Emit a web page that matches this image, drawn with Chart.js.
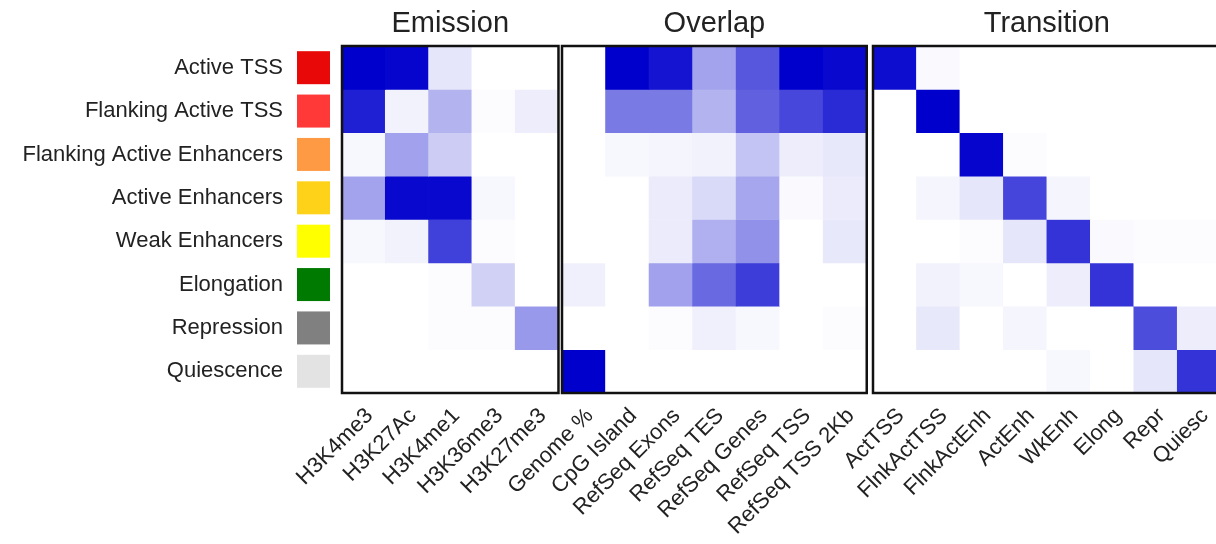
<!DOCTYPE html>
<html>
<head>
<meta charset="utf-8">
<script src="https://cdn.jsdelivr.net/npm/chart.js@4/dist/chart.umd.min.js"></script>
<style>
  html, body { margin: 0; padding: 0; background: #fff; overflow: hidden; }
  body { width: 1216px; height: 544px; position: relative; }
  canvas { position: absolute; top: 0; }
</style>
</head>
<body>
<canvas id="emission" width="566" height="544" style="left:0px"></canvas>
<canvas id="overlap" width="412" height="544" style="left:462px"></canvas>
<canvas id="transition" width="455" height="544" style="left:773px"></canvas>
<script>
const states = [
  "Active TSS", "Flanking Active TSS", "Flanking Active Enhancers", "Active Enhancers",
  "Weak Enhancers", "Elongation", "Repression", "Quiescence",
];
const stateColors = ["#e80808", "#ff3838", "#ff9a44", "#ffd21a", "#ffff00", "#007a00", "#808080", "#e3e3e3"];

const emissionMarks = ["H3K4me3", "H3K27Ac", "H3K4me1", "H3K36me3", "H3K27me3"];
const overlapFeatures = ["Genome %", "CpG Island", "RefSeq Exons", "RefSeq TES", "RefSeq Genes", "RefSeq TSS", "RefSeq TSS 2Kb"];
const transitionStates = ["ActTSS", "FlnkActTSS", "FlnkActEnh", "ActEnh", "WkEnh", "Elong", "Repr", "Quiesc"];

// one row per state, values scaled 0..1
const emission = [
  [1.00, 0.98, 0.10, 0.00, 0.00],
  [0.88, 0.05, 0.30, 0.01, 0.07],
  [0.03, 0.37, 0.20, 0.00, 0.00],
  [0.36, 0.97, 0.97, 0.03, 0.00],
  [0.03, 0.05, 0.75, 0.01, 0.00],
  [0.00, 0.00, 0.01, 0.18, 0.00],
  [0.00, 0.00, 0.01, 0.01, 0.40],
  [0.00, 0.00, 0.00, 0.00, 0.00],
];
const overlap = [
  [0.00, 1.00, 0.92, 0.36, 0.66, 1.00, 0.97],
  [0.00, 0.52, 0.52, 0.30, 0.62, 0.72, 0.83],
  [0.00, 0.03, 0.04, 0.05, 0.23, 0.07, 0.09],
  [0.00, 0.00, 0.08, 0.15, 0.35, 0.02, 0.08],
  [0.00, 0.00, 0.08, 0.31, 0.43, 0.00, 0.09],
  [0.06, 0.00, 0.37, 0.59, 0.76, 0.00, 0.00],
  [0.00, 0.00, 0.01, 0.06, 0.03, 0.00, 0.01],
  [1.00, 0.00, 0.00, 0.00, 0.00, 0.00, 0.00],
];
const transition = [
  [0.95, 0.02, 0.00, 0.00, 0.00, 0.00, 0.00, 0.00],
  [0.00, 1.00, 0.00, 0.00, 0.00, 0.00, 0.00, 0.00],
  [0.00, 0.00, 0.98, 0.01, 0.00, 0.00, 0.00, 0.00],
  [0.00, 0.04, 0.10, 0.73, 0.04, 0.00, 0.00, 0.00],
  [0.00, 0.00, 0.01, 0.10, 0.80, 0.02, 0.01, 0.01],
  [0.00, 0.05, 0.03, 0.00, 0.07, 0.80, 0.00, 0.00],
  [0.00, 0.09, 0.00, 0.04, 0.00, 0.00, 0.70, 0.07],
  [0.00, 0.00, 0.00, 0.00, 0.03, 0.00, 0.10, 0.80],
];

const FONT = "'Liberation Sans', Arial, sans-serif";
Chart.defaults.font.family = FONT;
Chart.defaults.color = "#222";

function shade(v) {
  const c = Math.round(255 * (1 - v));
  const b = Math.round(255 - 50 * v);
  return `rgb(${c},${c},${b})`;
}

// frame round the cells and the panel title above it
const panelFrame = {
  id: "panelFrame",
  afterDatasetsDraw(chart, args, opts) {
    const { ctx, chartArea: a } = chart;
    ctx.save();
    ctx.strokeStyle = "#111";
    ctx.lineWidth = 2.5;
    ctx.strokeRect(a.left, a.top, a.right - a.left, a.bottom - a.top);
    ctx.fillStyle = "#222";
    ctx.font = `29px ${FONT}`;
    ctx.textAlign = "center";
    ctx.textBaseline = "middle";
    ctx.fillText(opts.text, (a.left + a.right) / 2, 24);
    ctx.restore();
  },
};

const stateSwatches = {
  id: "stateSwatches",
  afterDraw(chart) {
    const { ctx, chartArea: a } = chart;
    const y = chart.scales.y;
    ctx.save();
    states.forEach((s, i) => {
      const cy = y.getPixelForValue(i + 0.5);
      ctx.fillStyle = stateColors[i];
      ctx.fillRect(a.left - 45, cy - 16.5, 33, 33);
    });
    ctx.restore();
  },
};

function heatmap(id, title, cols, values, withRows) {
  const datasets = values.map((row, r) => ({
    label: states[r],
    data: cols.map(() => [r, r + 1]),
    backgroundColor: row.map(shade),
    borderWidth: 0,
    grouped: false,
    barPercentage: 1,
    categoryPercentage: 1,
  }));
  return new Chart(document.getElementById(id), {
    type: "bar",
    data: { labels: cols, datasets },
    plugins: withRows ? [panelFrame, stateSwatches] : [panelFrame],
    options: {
      responsive: false,
      animation: false,
      layout: { padding: { left: withRows ? 0 : 100, right: 5, top: 46, bottom: 0 } },
      plugins: {
        legend: { display: false },
        tooltip: { enabled: false },
        title: { display: false },
        panelFrame: { text: title },
      },
      scales: {
        x: {
          grid: { display: false, drawTicks: false },
          border: { display: false },
          ticks: {
            autoSkip: false,
            maxRotation: 45,
            minRotation: 45,
            padding: 10,
            labelOffset: 6,
            color: "#222",
            font: { size: 22 },
          },
          afterFit: (axis) => { axis.height = 151; },
        },
        y: {
          display: withRows,
          reverse: true,
          min: 0,
          max: 8,
          grid: { display: false, drawTicks: true, tickLength: 59 },
          border: { display: false },
          afterBuildTicks: (axis) => { axis.ticks = states.map((s, i) => ({ value: i + 0.5 })); },
          ticks: {
            padding: 0,
            color: "#222",
            font: { size: 22 },
            callback: (v, i) => states[i],
          },
          afterFit: (axis) => { if (withRows) axis.width = 342; },
        },
      },
    },
  });
}

heatmap("emission", "Emission", emissionMarks, emission, true);
heatmap("overlap", "Overlap", overlapFeatures, overlap, false);
heatmap("transition", "Transition", transitionStates, transition, false);
</script>
</body>
</html>
